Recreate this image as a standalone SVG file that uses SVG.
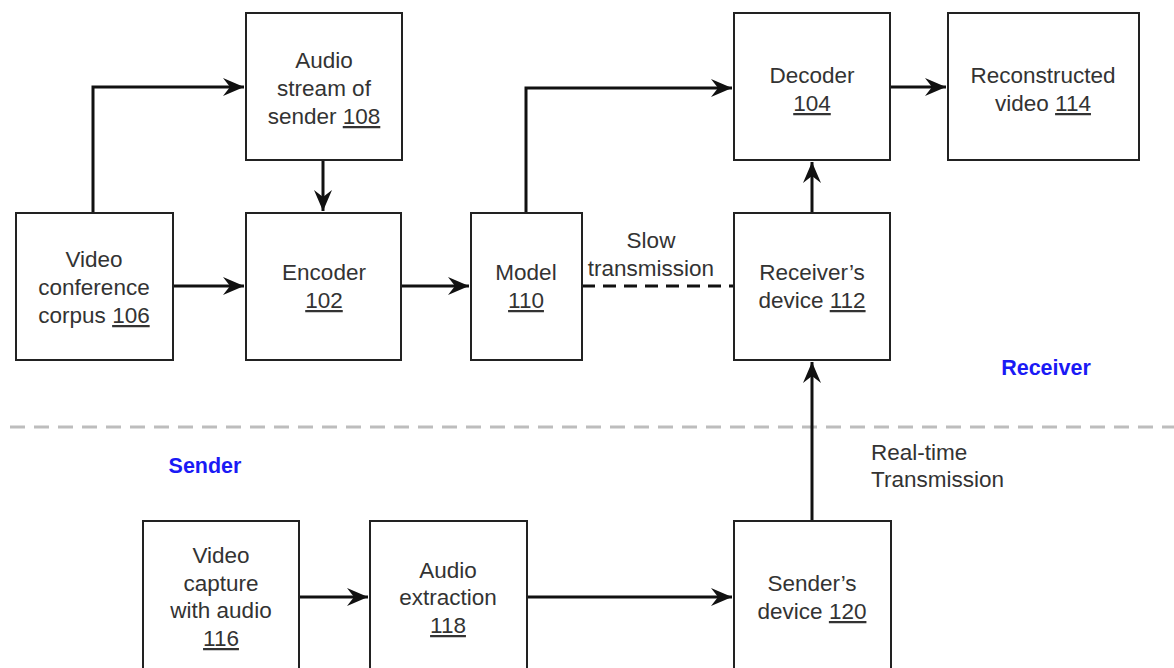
<svg xmlns="http://www.w3.org/2000/svg" width="1174" height="668" viewBox="0 0 1174 668">
  <style>
    .box { fill: #ffffff; stroke: #222222; stroke-width: 2; }
    .lbl { font-family: "Liberation Sans", Arial, sans-serif; font-size: 22.5px; fill: #333333; text-anchor: middle; }
    .note { font-family: "Liberation Sans", Arial, sans-serif; font-size: 22.5px; fill: #333333; }
    .side { font-family: "Liberation Sans", Arial, sans-serif; font-size: 21.5px; font-weight: bold; fill: #1a1af5; text-anchor: middle; }
    .ref { text-decoration: underline; }
    .wire { fill: none; stroke: #111111; stroke-width: 3; }
    .dash { fill: none; stroke: #111111; stroke-width: 3; stroke-dasharray: 13 8; }
    .divider { fill: none; stroke: #bdbdbd; stroke-width: 3; stroke-dasharray: 15 9; }
  </style>
  <defs>
    <marker id="arrow" markerUnits="userSpaceOnUse" markerWidth="24" markerHeight="20" refX="21" refY="9" orient="auto">
      <path d="M0,0 L21,9 L0,18 L7,9 Z" fill="#111111"/>
    </marker>
  </defs>

  <rect width="1174" height="668" fill="#ffffff"/>

  <!-- sender / receiver divider -->
  <line class="divider" x1="10" y1="427" x2="1174" y2="427"/>
  <text class="side" x="1046" y="375">Receiver</text>
  <text class="side" x="205" y="473">Sender</text>

  <!-- connectors -->
  <g id="connectors">
    <polyline class="wire" points="93,213 93,87 244,87" marker-end="url(#arrow)"/>
    <line class="wire" x1="323" y1="160" x2="323" y2="211" marker-end="url(#arrow)"/>
    <line class="wire" x1="173" y1="286" x2="244" y2="286" marker-end="url(#arrow)"/>
    <line class="wire" x1="401" y1="286" x2="469" y2="286" marker-end="url(#arrow)"/>
    <polyline class="wire" points="526,213 526,88 732,88" marker-end="url(#arrow)"/>
    <line class="dash" x1="582" y1="286" x2="734" y2="286"/>
    <line class="wire" x1="812" y1="213" x2="812" y2="162" marker-end="url(#arrow)"/>
    <line class="wire" x1="890" y1="87" x2="946" y2="87" marker-end="url(#arrow)"/>
    <line class="wire" x1="812" y1="521" x2="812" y2="362" marker-end="url(#arrow)"/>
    <line class="wire" x1="299" y1="597" x2="368" y2="597" marker-end="url(#arrow)"/>
    <line class="wire" x1="527" y1="597" x2="732" y2="597" marker-end="url(#arrow)"/>
    <text class="lbl" x="651" y="248">Slow</text>
    <text class="lbl" x="651" y="276">transmission</text>
    <text class="note" x="871" y="460">Real-time</text>
    <text class="note" x="871" y="487">Transmission</text>
  </g>

  <g id="corpus106">
    <rect class="box" x="16" y="213" width="157" height="147"/>
    <text class="lbl" x="94" y="267">Video</text>
    <text class="lbl" x="94" y="295">conference</text>
    <text class="lbl" x="94" y="323">corpus <tspan class="ref">106</tspan></text>
  </g>

  <g id="audiostream108">
    <rect class="box" x="246" y="13" width="156" height="147"/>
    <text class="lbl" x="324" y="68">Audio</text>
    <text class="lbl" x="324" y="96">stream of</text>
    <text class="lbl" x="324" y="124">sender <tspan class="ref">108</tspan></text>
  </g>

  <g id="encoder102">
    <rect class="box" x="246" y="213" width="155" height="147"/>
    <text class="lbl" x="324" y="280">Encoder</text>
    <text class="lbl" x="324" y="308"><tspan class="ref">102</tspan></text>
  </g>

  <g id="model110">
    <rect class="box" x="471" y="213" width="111" height="147"/>
    <text class="lbl" x="526" y="280">Model</text>
    <text class="lbl" x="526" y="308"><tspan class="ref">110</tspan></text>
  </g>

  <g id="decoder104">
    <rect class="box" x="734" y="13" width="156" height="147"/>
    <text class="lbl" x="812" y="83">Decoder</text>
    <text class="lbl" x="812" y="111"><tspan class="ref">104</tspan></text>
  </g>

  <g id="reconstructed114">
    <rect class="box" x="948" y="13" width="191" height="147"/>
    <text class="lbl" x="1043" y="83">Reconstructed</text>
    <text class="lbl" x="1043" y="111">video <tspan class="ref">114</tspan></text>
  </g>

  <g id="receiver112">
    <rect class="box" x="734" y="213" width="156" height="147"/>
    <text class="lbl" x="812" y="280">Receiver’s</text>
    <text class="lbl" x="812" y="308">device <tspan class="ref">112</tspan></text>
  </g>

  <g id="capture116">
    <rect class="box" x="143" y="521" width="156" height="160"/>
    <text class="lbl" x="221" y="563">Video</text>
    <text class="lbl" x="221" y="591">capture</text>
    <text class="lbl" x="221" y="618">with audio</text>
    <text class="lbl" x="221" y="646"><tspan class="ref">116</tspan></text>
  </g>

  <g id="extraction118">
    <rect class="box" x="370" y="521" width="157" height="160"/>
    <text class="lbl" x="448" y="578">Audio</text>
    <text class="lbl" x="448" y="605">extraction</text>
    <text class="lbl" x="448" y="633"><tspan class="ref">118</tspan></text>
  </g>

  <g id="sender120">
    <rect class="box" x="734" y="521" width="157" height="160"/>
    <text class="lbl" x="812" y="591">Sender’s</text>
    <text class="lbl" x="812" y="619">device <tspan class="ref">120</tspan></text>
  </g>
</svg>
